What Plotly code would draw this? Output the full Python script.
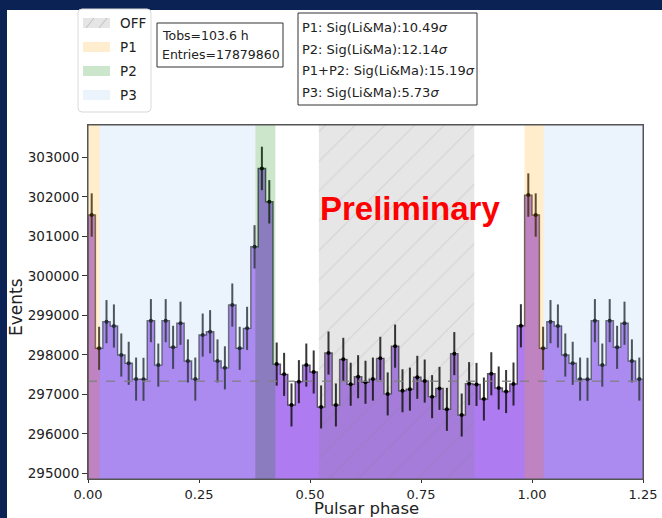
import numpy as np
import plotly.graph_objects as go

# ---- data ----
counts = [301540, 298165, 298840, 298730, 297995, 297785, 297385, 297380, 298865, 297740,
          298865, 298190, 298800, 297845, 297385, 298500, 298585, 297845, 297670, 299260,
          298165, 298670, 300735, 302720, 301875, 297765, 297505, 296730, 297320, 297740,
          297565, 296680, 298045, 296730, 297885, 297255, 297445, 297305, 297385, 297910,
          297010, 298220, 297090, 297130, 297430, 297335, 296940, 297150, 296620, 298030,
          296475, 297270, 297250, 296880, 297520, 297160, 297070, 297260, 298735, 302045]
n_bins = 60          # bins per rotation
n_extra = 15         # bins repeated after phase 1.0 (up to 1.25)
off_level = 297330   # background level (dashed line)

P1 = [(0.0, 0.026), (0.983, 1.026)]
P2 = [(0.377, 0.422)]
P3 = [(0.026, 0.377), (1.026, 1.25)]
OFF = (0.52, 0.87)

tobs_lines = ["Tobs=103.6 h", "Entries=17879860"]
sig_lines = ["P1: Sig(Li&Ma):10.49<i>σ</i>", "P2: Sig(Li&Ma):12.14<i>σ</i>",
             "P1+P2: Sig(Li&Ma):15.19<i>σ</i>", "P3: Sig(Li&Ma):5.73<i>σ</i>"]
legend_labels = ["OFF", "P1", "P2", "P3"]
xtick_vals = [0.0, 0.25, 0.5, 0.75, 1.0, 1.25]

# ---- derived ----
y_all = np.array(counts + counts[:n_extra], dtype=float)
idx = np.arange(len(y_all))
bw = 1.0 / n_bins
xc = (idx + 0.5) * bw
edges = np.arange(len(y_all) + 1) * bw
err = np.sqrt(y_all)

YLO, YHI = 294855, 303820

# pixel layout helpers
L, R, T, B = 88, 643, 125, 479
W, H = 662, 518
def px(x): return (x - L) / (R - L)
def py(y): return (B - y) / (B - T)

FONT = "DejaVu Sans"
fig = go.Figure()

fig.add_trace(go.Bar(x=xc, y=y_all, width=bw,
                     marker=dict(color="rgb(174,123,240)", line=dict(width=0)),
                     hoverinfo="skip", showlegend=False))

# step outline of the histogram
step_x = np.concatenate([[edges[0]], edges])
step_y = np.concatenate([[YLO], y_all, [y_all[-1]]])
fig.add_trace(go.Scatter(x=step_x, y=step_y, mode="lines", line_shape="hv",
                         line=dict(color="rgba(50,50,50,0.8)", width=1.4),
                         hoverinfo="skip", showlegend=False))

# OFF region: hatched
fig.add_trace(go.Scatter(x=[OFF[0], OFF[1], OFF[1], OFF[0], OFF[0]],
                         y=[YLO, YLO, YHI, YHI, YLO], mode="lines",
                         line=dict(width=0), fill="toself",
                         fillcolor="rgba(128,128,128,0.2)",
                         fillpattern=dict(shape="/", fgcolor="rgba(110,110,110,0.35)",
                                          bgcolor="rgba(128,128,128,0.2)",
                                          size=21, solidity=0.05),
                         hoverinfo="skip", showlegend=False))

fig.add_trace(go.Scatter(x=xc, y=y_all, mode="markers",
                         marker=dict(color="black", size=4),
                         error_y=dict(type="data", array=err, thickness=2, width=0,
                                      color="rgba(20,20,20,0.85)"),
                         hoverinfo="skip", showlegend=False))

shapes = []
# navy frame & white panel
shapes.append(dict(type="rect", xref="paper", yref="paper",
                   x0=px(7), x1=px(W + 5), y0=py(H + 5), y1=py(10),
                   fillcolor="white", line=dict(width=0), layer="below"))
for (a, b) in P3:
    shapes.append(dict(type="rect", xref="x", yref="paper", x0=a, x1=b, y0=0, y1=1,
                       fillcolor="rgba(160,198,241,0.21)", line=dict(width=0), layer="above"))
for (a, b) in P1:
    shapes.append(dict(type="rect", xref="x", yref="paper", x0=a, x1=b, y0=0, y1=1,
                       fillcolor="rgba(255,165,0,0.2)", line=dict(width=0), layer="above"))
for (a, b) in P2:
    shapes.append(dict(type="rect", xref="x", yref="paper", x0=a, x1=b, y0=0, y1=1,
                       fillcolor="rgba(0,128,0,0.2)", line=dict(width=0), layer="above"))
shapes.append(dict(type="line", xref="paper", yref="y", x0=0, x1=1, y0=off_level, y1=off_level,
                   line=dict(color="rgba(128,128,128,0.85)", width=1.5, dash="dash"), layer="above"))
# axes frame on top
shapes.append(dict(type="rect", xref="paper", yref="paper", x0=0, x1=1, y0=0, y1=1,
                   line=dict(color="#555", width=1), fillcolor="rgba(0,0,0,0)", layer="above"))

# legend frame (rounded)
lx0, lx1, ly0, ly1, rr = px(78), px(151), py(112), py(9), 4
rx, ry = rr / (R - L), rr / (B - T)
path = (f"M {lx0+rx},{ly0} L {lx1-rx},{ly0} Q {lx1},{ly0} {lx1},{ly0+ry} "
        f"L {lx1},{ly1-ry} Q {lx1},{ly1} {lx1-rx},{ly1} L {lx0+rx},{ly1} "
        f"Q {lx0},{ly1} {lx0},{ly1-ry} L {lx0},{ly0+ry} Q {lx0},{ly0} {lx0+rx},{ly0} Z")
shapes.append(dict(type="path", xref="paper", yref="paper", path=path,
                   fillcolor="white", line=dict(color="#d9d9d9", width=1)))
patch_cols = ["rgba(229,229,229,1)", "#feedcf", "#cce6cc", "#ebf3fc"]
row_y = [23, 47, 71, 95]
for c, yy in zip(patch_cols, row_y):
    shapes.append(dict(type="rect", xref="paper", yref="paper",
                       x0=px(83), x1=px(110), y0=py(yy + 5), y1=py(yy - 5),
                       fillcolor=c, line=dict(width=0)))
for (xa, xb) in [(86, 94), (99, 107)]:
    shapes.append(dict(type="line", xref="paper", yref="paper",
                       x0=px(xa), x1=px(xb), y0=py(row_y[0] + 5), y1=py(row_y[0] - 5),
                       line=dict(color="rgba(190,190,190,1)", width=1)))
# text boxes
shapes.append(dict(type="rect", xref="paper", yref="paper",
                   x0=px(157), x1=px(283), y0=py(67), y1=py(23),
                   fillcolor="white", line=dict(color="#333", width=1)))
shapes.append(dict(type="rect", xref="paper", yref="paper",
                   x0=px(298), x1=px(477), y0=py(105), y1=py(13),
                   fillcolor="white", line=dict(color="#333", width=1)))

ann = []
for lab, yy in zip(legend_labels, row_y):
    ann.append(dict(text=lab, x=px(118), y=py(yy), xref="paper", yref="paper",
                    xanchor="left", yanchor="middle", showarrow=False,
                    font=dict(family=FONT, size=13.5, color="#222")))
for t, yy in zip(tobs_lines, [35, 55]):
    ann.append(dict(text=t, x=px(160), y=py(yy), xref="paper", yref="paper",
                    xanchor="left", yanchor="middle", showarrow=False,
                    font=dict(family=FONT, size=12.5, color="#222")))
for t, yy in zip(sig_lines, [28, 49.5, 71, 92.5]):
    ann.append(dict(text=t, x=px(300), y=py(yy), xref="paper", yref="paper",
                    xanchor="left", yanchor="middle", showarrow=False,
                    font=dict(family=FONT, size=13, color="#222")))
ann.append(dict(text="<b>Preliminary</b>", x=px(410), y=py(208), xref="paper", yref="paper",
                xanchor="center", yanchor="middle", showarrow=False,
                font=dict(family="Liberation Sans", size=33, color="#ff0000")))
# axis titles
ann.append(dict(text="Pulsar phase", x=px(366), y=py(508), xref="paper", yref="paper",
                xanchor="center", yanchor="middle", showarrow=False,
                font=dict(family=FONT, size=16.5, color="#222")))
ann.append(dict(text="Events", x=px(16), y=py(307), xref="paper", yref="paper",
                xanchor="center", yanchor="middle", showarrow=False, textangle=-90,
                font=dict(family=FONT, size=17, color="#222")))

fig.update_layout(
    width=W, height=H, margin=dict(l=L, r=W - R, t=T, b=H - B, autoexpand=False),
    paper_bgcolor="#0b2354", plot_bgcolor="white",
    bargap=0, shapes=shapes, annotations=ann, showlegend=False,
    xaxis=dict(range=[0, 1.25], tickvals=xtick_vals, tickformat=".2f", automargin=False,
               ticks="outside", ticklen=3, tickcolor="#333", showgrid=False, zeroline=False,
               showline=True, linecolor="#555", linewidth=1, mirror=True,
               tickfont=dict(family=FONT, size=13, color="#222")),
    yaxis=dict(range=[YLO, YHI], dtick=1000, tick0=0, tickformat="d", automargin=False,
               ticks="outside", ticklen=5, tickcolor="#333", showgrid=False, zeroline=False,
               showline=True, linecolor="#555", linewidth=1, mirror=True,
               tickfont=dict(family=FONT, size=13.5, color="#222")),
)

fig.write_html("out.html")
